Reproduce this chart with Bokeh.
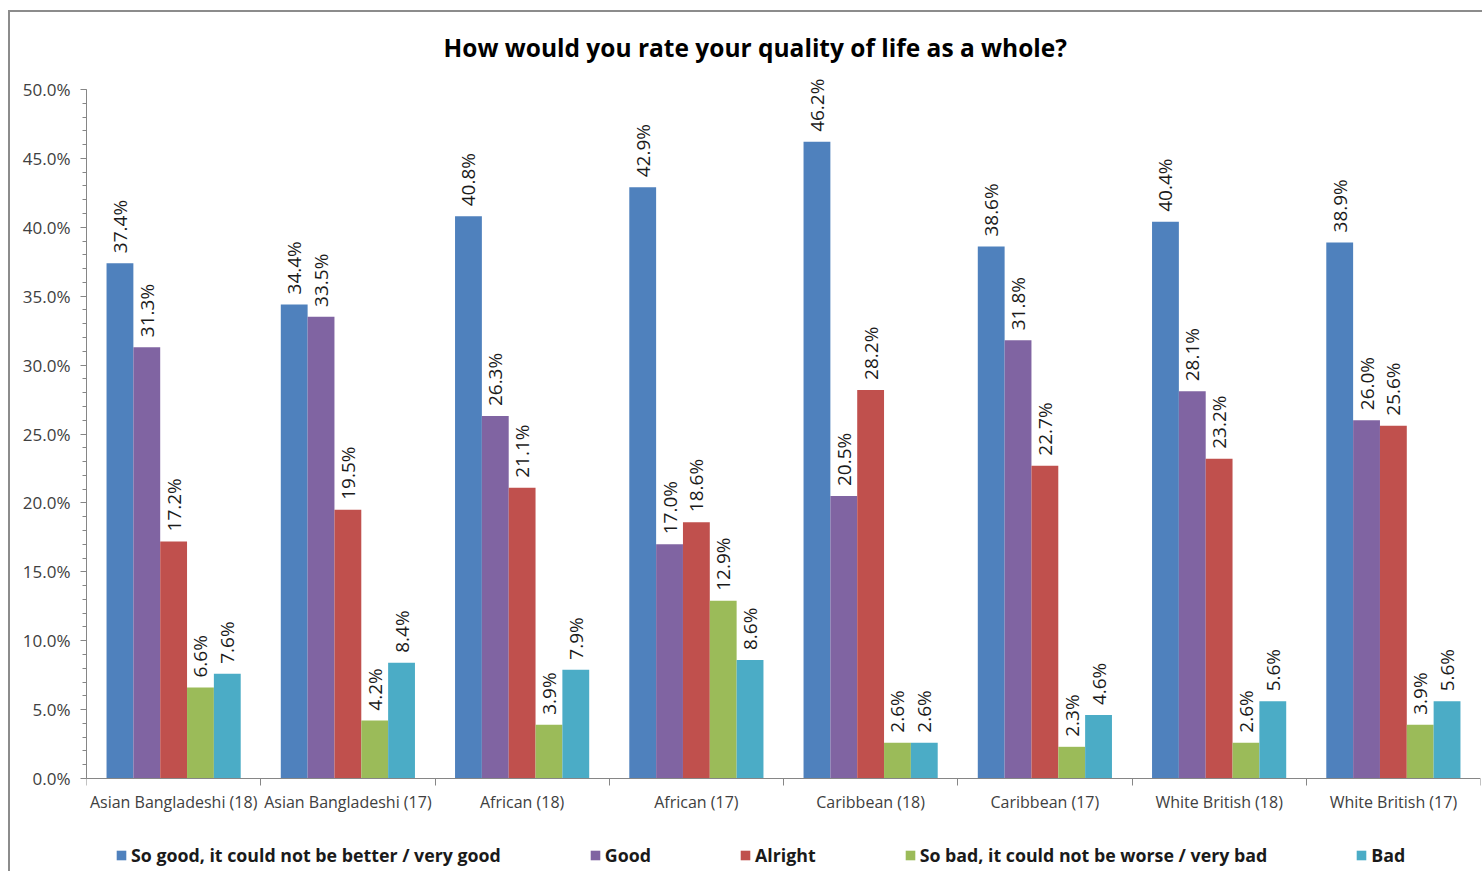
from math import pi
from bokeh.plotting import figure
from bokeh.models import (ColumnDataSource, Range1d, FixedTicker, Legend, LegendItem,
                          CustomJSTickFormatter, PrintfTickFormatter, LabelSet)
from bokeh.core.properties import value
from bokeh.transform import dodge
from bokeh.embed import file_html
from bokeh.resources import INLINE

title_text = "How would you rate your quality of life as a whole?"
categories = ["Asian Bangladeshi (18)", "Asian Bangladeshi (17)", "African (18)", "African (17)",
              "Caribbean (18)", "Caribbean (17)", "White British (18)", "White British (17)"]
series_names = ["So good, it could not be better / very good", "Good", "Alright",
                "So bad, it could not be worse / very bad", "Bad"]
so_good = [37.4, 34.4, 40.8, 42.9, 46.2, 38.6, 40.4, 38.9]
good = [31.3, 33.5, 26.3, 17.0, 20.5, 31.8, 28.1, 26.0]
alright = [17.2, 19.5, 21.1, 18.6, 28.2, 22.7, 23.2, 25.6]
so_bad = [6.6, 4.2, 3.9, 12.9, 2.6, 2.3, 2.6, 3.9]
bad = [7.6, 8.4, 7.9, 8.6, 2.6, 4.6, 5.6, 5.6]
y_ticks = [0, 5, 10, 15, 20, 25, 30, 35, 40, 45, 50]

colors = ["#4F81BD", "#8064A2", "#C0504D", "#9BBB59", "#4BACC6"]
FONT = "Open Sans"
AXIS_COLOR = "#868686"
TEXT_COLOR = "#404040"

# layout (pixels inside the canvas)
W, H = 1474, 861
TOP, ZERO_Y, FIFTY_Y = 63, 766, 77
px_per_unit = (ZERO_Y - FIFTY_Y) / 50.0
y_hi = 50 + (FIFTY_Y - TOP) / px_per_unit
y_lo = -(H - ZERO_Y) / px_per_unit

n = len(categories)
p = figure(x_range=Range1d(0, n), y_range=Range1d(y_lo, y_hi),
           width=W, height=H, output_backend="svg", toolbar_location=None,
           min_border_left=76, min_border_top=TOP,
           min_border_bottom=0, min_border_right=4, title=title_text)
p.margin = (10, 0, 0, 8)
p.styles = {"border-left": "2px solid #8c8c8c", "border-top": "2px solid #8c8c8c"}
p.outline_line_color = None
p.background_fill_color = "white"
p.border_fill_color = "white"

p.title.text_font = FONT
p.title.text_font_size = "24.5px"
p.title.text_font_style = "bold"
p.title.text_color = "#000000"
p.title.align = "left"
p.title.offset = 357
p.title.standoff = 24

bw = 0.154
all_series = [so_good, good, alright, so_bad, bad]
items = []
for j, (name, vals, col) in enumerate(zip(series_names, all_series, colors)):
    src = ColumnDataSource(dict(pos=list(range(n)), cat=categories, val=vals,
                                lab=[f"{v:.1f}%" for v in vals]))
    xs = dodge("pos", 0.5 + (j - 2) * bw)
    r = p.vbar(x=xs, top="val", width=bw, fill_color=col, line_color=None, source=src)
    items.append(LegendItem(label=name, renderers=[r]))
    labels = LabelSet(x=xs, y="val", text="lab", source=src, angle=pi / 2,
                      text_align="left", text_baseline="middle", y_offset=10,
                      text_font=value(FONT), text_font_size=value("19px"),
                      text_color="#1a1a1a", level="overlay")
    p.add_layout(labels)

p.grid.grid_line_color = None

# y axis
yax = p.yaxis[0]
yax.bounds = (0, 50)
yax.ticker = FixedTicker(ticks=y_ticks, minor_ticks=list(range(0, 51)))
yax.formatter = PrintfTickFormatter(format="%.1f%%")
yax.axis_line_color = AXIS_COLOR
yax.major_tick_line_color = AXIS_COLOR
yax.minor_tick_line_color = AXIS_COLOR
yax.major_tick_in = 0
yax.major_tick_out = 6
yax.minor_tick_in = 0
yax.minor_tick_out = 4
yax.major_label_standoff = 10
yax.major_label_text_font = FONT
yax.major_label_text_font_size = "17px"
yax.major_label_text_color = TEXT_COLOR

# x axis at y = 0: labels at category centres, ticks on category boundaries
xax = p.xaxis[0]
xax.fixed_location = 0
xax.ticker = FixedTicker(ticks=[i + 0.5 for i in range(n)], minor_ticks=list(range(n + 1)))
xax.formatter = CustomJSTickFormatter(args=dict(cats=categories),
                                      code="return cats[Math.floor(tick)]")
xax.axis_line_color = AXIS_COLOR
xax.major_tick_line_color = None
xax.major_tick_in = 0
xax.major_tick_out = 0
xax.minor_tick_line_color = AXIS_COLOR
xax.minor_tick_in = 0
xax.minor_tick_out = 7
xax.major_label_standoff = 5
xax.major_label_text_font = FONT
xax.major_label_text_font_size = "16px"
xax.major_label_text_color = TEXT_COLOR

lg = Legend(items=items, location=(29, 6), orientation="horizontal", spacing=88,
            padding=0, margin=0, border_line_color=None, background_fill_alpha=0,
            glyph_width=12, glyph_height=12, label_standoff=4, label_height=20,
            label_text_font=FONT, label_text_font_style="bold",
            label_text_font_size="17.8px", label_text_color="#1a1a1a")
p.add_layout(lg, "center")

open("out.html", "w").write(file_html(p, INLINE))
